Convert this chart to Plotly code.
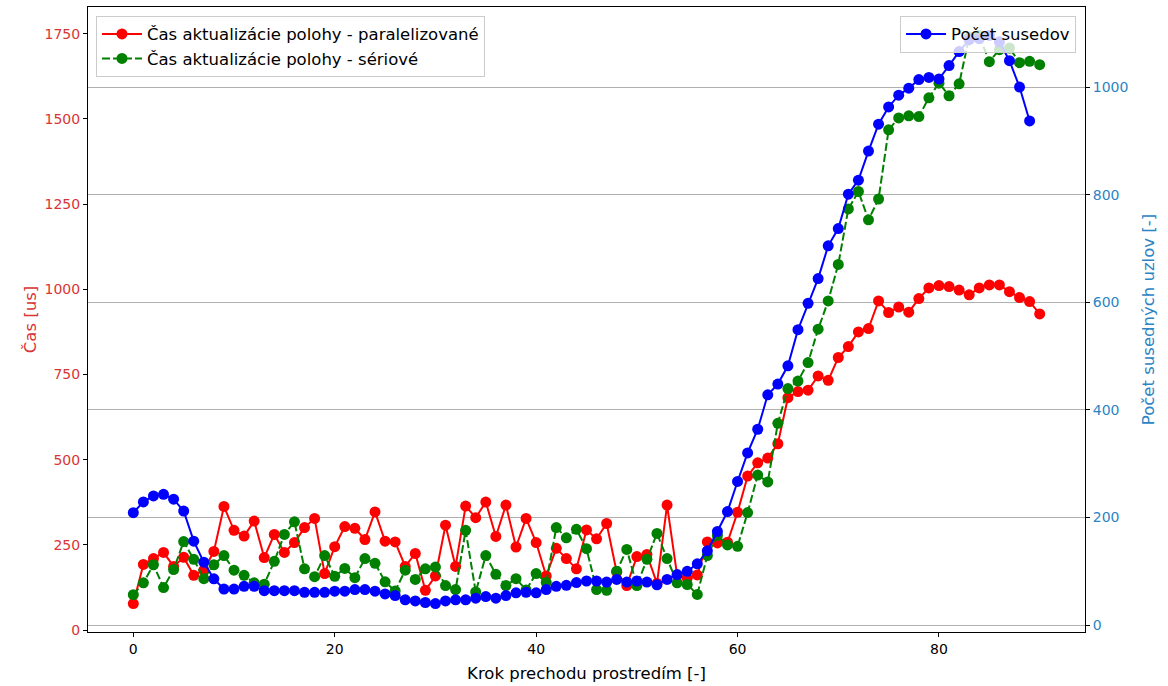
import plotly.graph_objects as go

steps_red = list(range(91))
steps_blue = list(range(90))

cas_paralel = [78, 193, 210, 228, 187, 214, 161, 176, 231, 363,
               293, 276, 320, 213, 281, 228, 257, 301, 328, 166,
               245, 304, 299, 266, 347, 261, 259, 187, 225, 117,
               159, 308, 187, 364, 330, 376, 275, 367, 244, 328,
               257, 159, 240, 210, 180, 294, 268, 313, 170, 131,
               216, 222, 137, 367, 161, 152, 162, 259, 256, 258,
               346, 452, 491, 505, 547, 682, 700, 704, 746, 733,
               800, 832, 875, 885, 966, 932, 948, 933, 973, 1004,
               1011, 1008, 998, 984, 1004, 1013, 1013, 993, 976, 964,
               928]

cas_serial = [104, 139, 192, 125, 178, 260, 208, 151, 192, 219,
              176, 161, 139, 135, 202, 281, 318, 180, 157, 219,
              158, 181, 154, 210, 196, 142, 115, 176, 149, 180,
              185, 131, 119, 293, 112, 219, 164, 131, 151, 118,
              166, 140, 301, 271, 296, 239, 119, 117, 173, 237,
              131, 208, 284, 210, 139, 134, 105, 219, 278, 250,
              246, 345, 455, 435, 607, 709, 731, 785, 883, 966,
              1073, 1236, 1287, 1204, 1265, 1468, 1503, 1509, 1507, 1562,
              1605, 1568, 1603, 1740, 1745, 1668, 1703, 1708, 1665, 1669,
              1659]

pocet_susedov = [209, 229, 240, 243, 234, 212, 156, 117, 86, 67,
                 67, 72, 72, 64, 64, 64, 64, 61, 61, 61,
                 63, 63, 66, 66, 63, 58, 55, 47, 45, 42,
                 40, 45, 47, 47, 50, 53, 50, 55, 60, 61,
                 60, 66, 72, 74, 79, 82, 82, 80, 85, 80,
                 82, 80, 75, 85, 94, 100, 114, 138, 174, 211,
                 267, 320, 364, 428, 448, 482, 549, 598, 644, 705,
                 737, 801, 827, 881, 931, 963, 985, 998, 1014, 1018,
                 1015, 1040, 1066, 1088, 1090, 1096, 1084, 1049, 1000, 937]

x_ticks = [0, 20, 40, 60, 80]
left_ticks = [0, 250, 500, 750, 1000, 1250, 1500, 1750]
right_ticks = [0, 200, 400, 600, 800, 1000]

RED_T = "#d93535"
BLUE_T = "#2b84c4"
FONT = "DejaVu Sans"
TICK_SIZE = 14
LABEL_SIZE = 16.5


def mpl_range(vals, margin=0.05):
    lo, hi = min(vals), max(vals)
    r = hi - lo
    return [lo - margin * r, hi + margin * r]


left_range = mpl_range(cas_paralel + cas_serial)
right_range = mpl_range(pocet_susedov)

fig = go.Figure()
fig.add_trace(go.Scatter(
    x=steps_red, y=cas_paralel, mode="lines+markers",
    name="Čas aktualizácie polohy - paralelizované",
    line=dict(color="red", width=2),
    marker=dict(color="red", size=11, symbol="circle"),
    legend="legend", yaxis="y"))
fig.add_trace(go.Scatter(
    x=steps_red, y=cas_serial, mode="lines+markers",
    name="Čas aktualizácie polohy - sériové",
    line=dict(color="green", width=2, dash="8px,3px"),
    marker=dict(color="green", size=11, symbol="circle"),
    legend="legend", yaxis="y"))
fig.add_trace(go.Scatter(
    x=steps_blue, y=pocet_susedov, mode="lines+markers",
    name="Počet susedov",
    line=dict(color="blue", width=2),
    marker=dict(color="blue", size=11, symbol="circle"),
    legend="legend2", yaxis="y2"))

fig.update_layout(
    width=1168, height=686,
    margin=dict(l=88, r=83, t=7, b=54),
    paper_bgcolor="white", plot_bgcolor="white",
    font=dict(family=FONT, size=TICK_SIZE, color="black"),
    xaxis=dict(
        range=[-4.5, 94.5], tickvals=x_ticks, ticks="outside", ticklen=4,
        tickcolor="black", showgrid=False, zeroline=False,
        showline=True, linecolor="black", linewidth=1, mirror=True,
        title=dict(text="Krok prechodu prostredím [-]", standoff=11,
                   font=dict(size=LABEL_SIZE)),
        tickfont=dict(size=TICK_SIZE)),
    yaxis=dict(
        range=left_range, tickvals=left_ticks, ticks="outside", ticklen=4,
        tickcolor="black", showgrid=False, zeroline=False,
        showline=True, linecolor="black", linewidth=1,
        tickfont=dict(color=RED_T, size=TICK_SIZE),
        title=dict(text="Čas [us]", font=dict(color=RED_T, size=LABEL_SIZE),
                   standoff=3)),
    yaxis2=dict(
        range=right_range, tickvals=right_ticks, ticks="outside", ticklen=4,
        tickcolor="black", overlaying="y", side="right",
        showgrid=True, gridcolor="#b0b0b0", gridwidth=1,
        zeroline=True, zerolinecolor="#b0b0b0", zerolinewidth=1,
        showline=True, linecolor="black", linewidth=1,
        tickfont=dict(color=BLUE_T, size=TICK_SIZE),
        title=dict(text="Počet susedných uzlov [-]",
                   font=dict(color=BLUE_T, size=LABEL_SIZE), standoff=15)),
    legend=dict(
        x=0.008, y=0.986, xanchor="left", yanchor="top",
        bgcolor="rgba(255,255,255,0.8)", bordercolor="#cccccc",
        borderwidth=1, itemwidth=40, font=dict(size=LABEL_SIZE, family=FONT)),
    legend2=dict(
        x=0.991, y=0.986, xanchor="right", yanchor="top",
        bgcolor="rgba(255,255,255,0.8)", bordercolor="#cccccc",
        borderwidth=1, itemwidth=40, font=dict(size=LABEL_SIZE, family=FONT)),
    showlegend=True,
)

fig.write_html("out.html")
